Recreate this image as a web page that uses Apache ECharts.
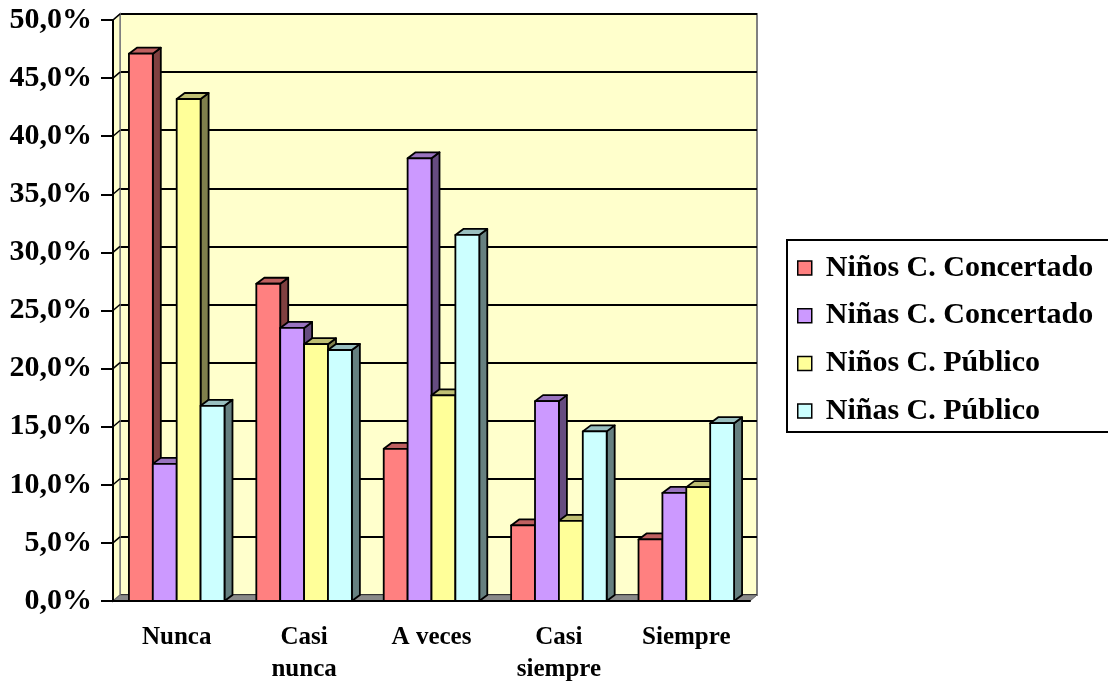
<!DOCTYPE html>
<html>
<head>
<meta charset="utf-8">
<script src="https://cdn.jsdelivr.net/npm/echarts@6/dist/echarts.min.js"></script>
<style>
  html, body { margin: 0; padding: 0; background: #fff; }
  #chart { width: 1108px; height: 682px; }
</style>
</head>
<body>
<div id="chart"></div>
<script>
// Frequency answers by group (percent)
const categories = ['Nunca', 'Casi\nnunca', 'A veces', 'Casi\nsiempre', 'Siempre'];
const ninosConcertado = [47.1, 27.3, 13.1, 6.5, 5.3];
const ninasConcertado = [11.8, 23.5, 38.1, 17.2, 9.3];
const ninosPublico = [43.2, 22.1, 17.7, 6.9, 9.8];
const ninasPublico = [16.8, 21.6, 31.5, 14.6, 15.3];
const yTicks = [0, 5, 10, 15, 20, 25, 30, 35, 40, 45, 50];
const yTickLabels = ['0,0%', '5,0%', '10,0%', '15,0%', '20,0%', '25,0%', '30,0%', '35,0%', '40,0%', '45,0%', '50,0%'];

const seriesNames = ['Niños C. Concertado', 'Niñas C. Concertado', 'Niños C. Público', 'Niñas C. Público'];
const seriesValues = [ninosConcertado, ninasConcertado, ninosPublico, ninasPublico];
const faceColors = ['#FF8080', '#CC99FF', '#FFFF99', '#CCFFFF'];
const topColors = ['#BF6060', '#9973BF', '#BFBF73', '#99BFBF'];
const sideColors = ['#804040', '#664C80', '#80804C', '#668080'];

// depth offsets of the pseudo-3D rendering
const WALL_DX = 7, WALL_DY = 6;
const BAR_DX = 8, BAR_DY = 6;
const FONT = "'Liberation Serif', 'Times New Roman', serif";

const chart = echarts.init(document.getElementById('chart'), null, { renderer: 'canvas' });

function barRenderer(k) {
  return function (params, api) {
    const idx = api.value(0);
    const val = api.value(1);
    const base = api.coord([idx, 0]);
    const top = api.coord([idx, val]);
    const catW = api.size([1, 0])[0];
    const bw = catW * 0.75 / 4;
    const x0 = base[0] - catW * 0.375 + k * bw;
    const ty = top[1], by = base[1];
    const stroke = { stroke: '#000', lineWidth: 1.8, lineJoin: 'round' };
    return {
      type: 'group',
      children: [
        {
          type: 'polygon',
          shape: { points: [[x0 + bw, ty], [x0 + bw + BAR_DX, ty - BAR_DY], [x0 + bw + BAR_DX, by - BAR_DY], [x0 + bw, by]] },
          style: Object.assign({ fill: sideColors[k] }, stroke)
        },
        {
          type: 'polygon',
          shape: { points: [[x0, ty], [x0 + BAR_DX, ty - BAR_DY], [x0 + bw + BAR_DX, ty - BAR_DY], [x0 + bw, ty]] },
          style: Object.assign({ fill: topColors[k] }, stroke)
        },
        {
          type: 'rect',
          shape: { x: x0, y: ty, width: bw, height: by - ty },
          style: Object.assign({ fill: faceColors[k] }, stroke)
        }
      ]
    };
  };
}

// side wall, floor and the side-wall gridlines
function wallRenderer(params, api) {
  const cs = params.coordSys;
  const x = cs.x, y = cs.y, w = cs.width, h = cs.height;
  const children = [
    {
      type: 'polygon',
      shape: { points: [[x, y], [x + WALL_DX, y - WALL_DY], [x + WALL_DX, y + h - WALL_DY], [x, y + h]] },
      style: { fill: '#FFFFCC', stroke: '#808080', lineWidth: 1.5 }
    }
  ];
  yTicks.forEach(function (t) {
    if (t === 0) return;
    const p = api.coord([0, t]);
    children.push({
      type: 'line',
      shape: { x1: x, y1: p[1], x2: x + WALL_DX, y2: p[1] - WALL_DY },
      style: { stroke: '#000', lineWidth: 1.5 }
    });
  });
  children.push({
    type: 'polygon',
    shape: { points: [[x, y + h], [x + WALL_DX, y + h - WALL_DY], [x + w + WALL_DX, y + h - WALL_DY], [x + w, y + h]] },
    style: { fill: '#8A8A8A', stroke: '#6A6A6A', lineWidth: 1 }
  });
  return { type: 'group', children: children };
}

const front = { left: 113, top: 20, width: 637, height: 581 };

const series = [
  {
    type: 'custom',
    name: '__walls',
    xAxisIndex: 0, yAxisIndex: 0,
    data: [[0, 0]],
    renderItem: wallRenderer,
    clip: false,
    silent: true,
    z: 1
  }
];
seriesNames.forEach(function (name, k) {
  series.push({
    type: 'custom',
    name: name,
    xAxisIndex: 0, yAxisIndex: 0,
    data: seriesValues[k].map(function (v, i) { return [i, v]; }),
    renderItem: barRenderer(k),
    itemStyle: { color: faceColors[k] },
    clip: false,
    z: 2 + k
  });
});

chart.setOption({
  animation: false,
  backgroundColor: '#ffffff',
  grid: [
    {
      left: front.left, top: front.top, width: front.width, height: front.height,
      containLabel: false, outerBoundsMode: 'none'
    },
    {
      left: front.left + WALL_DX, top: front.top - WALL_DY, width: front.width, height: front.height,
      containLabel: false, outerBoundsMode: 'none',
      show: true, backgroundColor: '#FFFFCC', borderColor: '#808080', borderWidth: 2
    }
  ],
  xAxis: [
    {
      type: 'category', gridIndex: 0, data: categories,
      axisLine: { lineStyle: { color: '#000', width: 2 } },
      axisTick: { length: 8, lineStyle: { color: '#000', width: 2 } },
      axisLabel: {
        color: '#000', fontFamily: FONT, fontWeight: 'bold', fontSize: 25,
        lineHeight: 32, margin: 21, interval: 0
      },
      z: 10
    },
    { type: 'category', gridIndex: 1, data: categories, show: false }
  ],
  yAxis: [
    {
      type: 'value', gridIndex: 0, min: 0, max: 50, interval: 5,
      axisLine: { show: true, lineStyle: { color: '#000', width: 2 } },
      axisTick: { show: true, length: 12, lineStyle: { color: '#000', width: 2 } },
      splitLine: { show: false },
      axisLabel: {
        color: '#000', fontFamily: FONT, fontWeight: 'bold', fontSize: 30, margin: 21,
        formatter: function (v) { return yTickLabels[yTicks.indexOf(v)]; }
      },
      z: 10
    },
    {
      type: 'value', gridIndex: 1, min: 0, max: 50, interval: 5,
      axisLine: { show: false }, axisTick: { show: false }, axisLabel: { show: false },
      splitLine: { show: true, lineStyle: { color: '#000', width: 2 } }
    }
  ],
  legend: {
    data: seriesNames,
    orient: 'vertical',
    left: 787, top: 240,
    padding: [13, 60, 6, 10],
    itemGap: 17.7,
    itemWidth: 14, itemHeight: 14,
    icon: 'rect',
    itemStyle: { borderColor: '#000', borderWidth: 1.5 },
    borderColor: '#000', borderWidth: 2, borderRadius: 0,
    backgroundColor: '#fff',
    textStyle: {
      color: '#000', fontFamily: FONT, fontWeight: 'bold', fontSize: 30, lineHeight: 30,
      padding: [0, 0, 0, 9]
    }
  },
  series: series
});
</script>
</body>
</html>
